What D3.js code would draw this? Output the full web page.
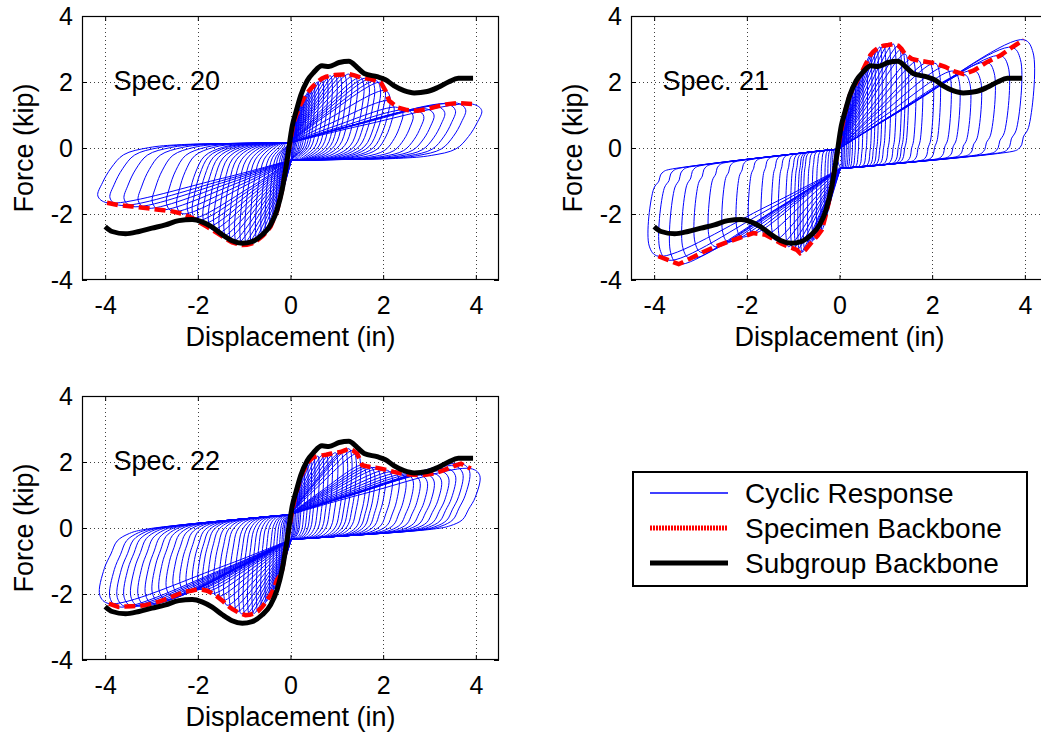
<!DOCTYPE html>
<html>
<head>
<meta charset="utf-8">
<script src="https://cdn.jsdelivr.net/npm/d3@7"></script>
<style>
  html, body { margin: 0; padding: 0; background: #fff; }
  svg { display: block; }
  text { font-family: "Liberation Sans", Arial, Helvetica, sans-serif; fill: #000; }
</style>
</head>
<body>
<svg id="chart" width="1041" height="735"></svg>
<script>
// ---- tick values -------------------------------------------------------
const xTicks = [-4, -2, 0, 2, 4];
const yTicks = [-4, -2, 0, 2, 4];

// ---- subgroup backbone (shared by all specimens), [disp in, force kip] --
const subgroupBackbone = [
  [-4.00, -2.38], [-3.85, -2.53], [-3.56, -2.60], [-3.27, -2.53], [-2.99, -2.43],
  [-2.70, -2.33], [-2.41, -2.20], [-2.12, -2.17], [-1.91, -2.24], [-1.69, -2.40],
  [-1.47, -2.63], [-1.26, -2.81], [-1.04, -2.89], [-0.83, -2.84], [-0.61, -2.63],
  [-0.43, -2.33], [-0.29, -1.87], [-0.18, -1.26], [-0.07, -0.34], [0.04, 0.68],
  [0.12, 1.10], [0.22, 1.59], [0.36, 2.04], [0.50, 2.29], [0.68, 2.49],
  [0.83, 2.47], [1.05, 2.59], [1.26, 2.63], [1.44, 2.44], [1.59, 2.26],
  [1.87, 2.16], [2.05, 2.07], [2.23, 1.89], [2.45, 1.74], [2.67, 1.67],
  [2.95, 1.71], [3.19, 1.84], [3.42, 2.01], [3.62, 2.11], [3.94, 2.11]
];

// ---- Spec. 20: cycle peaks [target disp, peak force] --------------------
const spec20Pos = [
  [0.04, 0.55], [0.07, 0.75], [0.10, 0.90], [0.13, 1.02], [0.17, 1.15], [0.22, 1.33],
  [0.27, 1.46], [0.32, 1.59], [0.38, 1.70], [0.44, 1.80], [0.50, 1.89], [0.58, 2.00],
  [0.68, 2.11], [0.77, 2.16], [0.86, 2.19], [0.96, 2.21], [1.05, 2.22], [1.15, 2.23],
  [1.26, 2.24], [1.38, 2.20], [1.51, 2.14], [1.62, 2.11], [1.73, 2.09], [1.85, 2.04],
  [1.95, 1.99], [2.05, 1.74], [2.13, 1.43], [2.31, 1.23], [2.52, 1.15], [2.74, 1.13],
  [2.95, 1.18], [3.17, 1.26], [3.39, 1.33], [3.60, 1.36], [3.93, 1.33]
];
const spec20Neg = [
  [-0.06, -0.25], [-0.10, -0.60], [-0.14, -0.95], [-0.18, -1.26], [-0.23, -1.55],
  [-0.29, -1.90], [-0.36, -2.15], [-0.43, -2.38], [-0.52, -2.55], [-0.61, -2.68],
  [-0.72, -2.80], [-0.83, -2.89], [-0.94, -2.93], [-1.04, -2.94], [-1.15, -2.90],
  [-1.26, -2.86], [-1.37, -2.77], [-1.47, -2.68], [-1.58, -2.58], [-1.69, -2.48],
  [-1.80, -2.39], [-1.91, -2.30], [-2.02, -2.20], [-2.12, -2.12], [-2.34, -1.99],
  [-2.55, -1.92], [-2.84, -1.87], [-3.13, -1.82], [-3.42, -1.77], [-3.71, -1.73],
  [-3.96, -1.66]
];
// pinched branches: [upper @0, upper slope, lower @0, lower slope]
const spec20Pinch = [0.15, 0.02, -0.36, 0.02];
// hysteresis shape: [reload bow, steep unload share, unload rounding]
const spec20Shape = [0.06, 0.35, 0.9];

// ---- Spec. 21 -----------------------------------------------------------
const spec21Pos = [
  [0.04, 0.55], [0.07, 0.75], [0.10, 0.95], [0.14, 1.20], [0.18, 1.40], [0.22, 1.59],
  [0.27, 1.75], [0.33, 1.89], [0.40, 2.10], [0.48, 2.29], [0.57, 2.55], [0.66, 2.80],
  [0.73, 2.92], [0.80, 3.00], [0.87, 3.06], [0.95, 3.10], [1.05, 3.12], [1.16, 3.15],
  [1.27, 3.10], [1.34, 3.00], [1.41, 2.85], [1.56, 2.70], [1.70, 2.65], [1.92, 2.60],
  [2.06, 2.57], [2.28, 2.46], [2.46, 2.33], [2.68, 2.24], [2.90, 2.35], [3.18, 2.60],
  [3.47, 2.80], [3.72, 3.05], [3.98, 3.28]
];
const spec21Neg = [
  [-0.06, -0.25], [-0.10, -0.60], [-0.14, -0.95], [-0.18, -1.26], [-0.24, -1.70],
  [-0.30, -2.05], [-0.38, -2.48], [-0.47, -2.65], [-0.56, -2.79], [-0.65, -2.94],
  [-0.74, -3.09], [-0.80, -3.15], [-0.85, -3.19], [-0.92, -3.09], [-1.00, -3.04],
  [-1.10, -2.99], [-1.25, -2.90], [-1.39, -2.79], [-1.60, -2.63], [-1.86, -2.58],
  [-2.11, -2.70], [-2.40, -2.84], [-2.68, -2.99], [-2.97, -3.17], [-3.22, -3.35],
  [-3.47, -3.52], [-3.69, -3.40], [-3.91, -3.28]
];
const spec21Pinch = [-0.03, 0.17, -0.62, 0.14];
const spec21Shape = [0.03, 0.8, 0.12];

// ---- Spec. 22 -----------------------------------------------------------
const spec22Pos = [
  [0.04, 0.55], [0.07, 0.75], [0.10, 0.95], [0.14, 1.15], [0.18, 1.35], [0.22, 1.55],
  [0.29, 1.75], [0.36, 1.95], [0.43, 2.07], [0.50, 2.15], [0.59, 2.18], [0.68, 2.20],
  [0.77, 2.22], [0.86, 2.25], [0.97, 2.28], [1.08, 2.30], [1.17, 2.35], [1.26, 2.40],
  [1.35, 2.35], [1.44, 2.25], [1.55, 1.90], [1.64, 1.87], [1.73, 1.85], [1.84, 1.83],
  [1.95, 1.80], [2.09, 1.75], [2.23, 1.70], [2.37, 1.66], [2.52, 1.63], [2.66, 1.61],
  [2.81, 1.60], [2.95, 1.62], [3.10, 1.65], [3.25, 1.72], [3.39, 1.80], [3.54, 1.88],
  [3.68, 1.95], [3.89, 1.80]
];
const spec22Neg = [
  [-0.06, -0.25], [-0.10, -0.60], [-0.14, -0.95], [-0.18, -1.26], [-0.23, -1.45],
  [-0.29, -1.57], [-0.36, -1.85], [-0.43, -2.03], [-0.52, -2.22], [-0.61, -2.39],
  [-0.70, -2.52], [-0.79, -2.59], [-0.88, -2.63], [-0.97, -2.64], [-1.06, -2.60],
  [-1.15, -2.54], [-1.26, -2.45], [-1.37, -2.34], [-1.47, -2.20], [-1.58, -2.08],
  [-1.69, -1.98], [-1.80, -1.90], [-1.90, -1.87], [-2.01, -1.86], [-2.14, -1.90],
  [-2.27, -1.93], [-2.41, -2.00], [-2.55, -2.08], [-2.70, -2.16], [-2.84, -2.23],
  [-2.98, -2.29], [-3.13, -2.34], [-3.28, -2.36], [-3.42, -2.37], [-3.56, -2.38],
  [-3.71, -2.39], [-3.92, -2.29]
];
const spec22Pinch = [0.40, 0.14, -0.34, 0.10];
const spec22Shape = [0.05, 0.5, 0.45];

const specimens = [
  { name: "Spec. 20", pos: spec20Pos, neg: spec20Neg, pinch: spec20Pinch, shape: spec20Shape, left: 82,  top: 16 },
  { name: "Spec. 21", pos: spec21Pos, neg: spec21Neg, pinch: spec21Pinch, shape: spec21Shape, left: 631, top: 16 },
  { name: "Spec. 22", pos: spec22Pos, neg: spec22Neg, pinch: spec22Pinch, shape: spec22Shape, left: 82,  top: 396 }
];

const legendItems = ["Cyclic Response", "Specimen Backbone", "Subgroup Backbone"];

// ---- layout -------------------------------------------------------------
const W = 417, H = 264;
const BLUE = "#0000ff", RED = "#ff0000";
const svg = d3.select("#chart");

// One half cycle: reload from the pinched branch at zero displacement
// straight towards the cycle peak, then an unload that runs slightly past
// the peak, drops and rounds onto the opposite pinched branch.
function halfCycle(d, F, p, shape, sign) {
  const up = x => p[0] + p[1] * x;
  const lo = x => p[2] + p[3] * x;
  const start = sign > 0 ? up : lo;
  const slip = sign > 0 ? lo : up;
  const [bow, f1, R0] = shape;
  const a = Math.abs(d);
  const pts = [];
  const y0 = start(0);
  pts.push([-sign * 0.02, y0]);
  pts.push([0.4 * d, y0 + (0.4 + bow) * (F - y0)]);
  pts.push([d, F]);
  const b = 0.05 * a;
  const R = R0 * Math.sqrt(a / 4);
  const steps = [
    [0.12, -b], [f1, -0.5 * b],
    [f1 + (1 - f1) * 0.4, 0.1 * R], [f1 + (1 - f1) * 0.75, 0.4 * R],
    [f1 + (1 - f1) * 0.93, 1.0 * R], [1.0, 1.8 * R]
  ];
  let last = -Infinity;
  steps.forEach(([fr, o]) => {
    const oo = Math.min(o, 0.75 * a);
    if (oo <= last + 0.005 && oo > 0) return;
    last = oo;
    const xi = d - sign * oo;
    pts.push([xi, F + fr * (slip(xi) - F)]);
  });
  const xe = sign * 0.03;
  pts.push([xe, slip(xe)]);
  return pts;
}

specimens.forEach(s => {
  const g = svg.append("g").attr("transform", `translate(${s.left},${s.top})`);
  const x = d3.scaleLinear().domain([-4.5, 4.5]).range([0, W]);
  const y = d3.scaleLinear().domain([-4, 4]).range([H, 0]);

  // dotted grid
  const grid = g.append("g").attr("stroke", "#000").attr("stroke-width", 1)
    .attr("stroke-dasharray", "1,3").attr("opacity", 0.75);
  grid.selectAll("line.v").data(xTicks).join("line")
    .attr("x1", d => Math.round(x(d)) + 0.5).attr("x2", d => Math.round(x(d)) + 0.5)
    .attr("y1", 0).attr("y2", H);
  grid.selectAll("line.h").data(yTicks.filter(v => Math.abs(v) < 4)).join("line")
    .attr("y1", d => Math.round(y(d)) + 0.5).attr("y2", d => Math.round(y(d)) + 0.5)
    .attr("x1", 0).attr("x2", W);

  const clipId = "clip" + s.name.replace(/\W/g, "");
  g.append("clipPath").attr("id", clipId).append("rect")
    .attr("x", 0).attr("y", 0).attr("width", W).attr("height", H);
  const plot = g.append("g").attr("clip-path", `url(#${clipId})`);

  const curve = d3.line().x(d => x(d[0])).y(d => y(d[1])).curve(d3.curveCatmullRom.alpha(0.5));

  // cyclic response
  const loops = [];
  s.pos.forEach(([d, F]) => loops.push(halfCycle(d, F, s.pinch, s.shape, 1)));
  s.neg.forEach(([d, F]) => loops.push(halfCycle(d, F, s.pinch, s.shape, -1)));
  plot.append("g").selectAll("path").data(loops).join("path")
    .attr("d", curve).attr("fill", "none").attr("stroke", BLUE).attr("stroke-width", 1);

  // specimen backbone through the cycle peaks
  const straight = d3.line().x(d => x(d[0])).y(d => y(d[1]));
  const backbone = s.neg.slice().reverse().concat(s.pos);
  plot.append("path").attr("d", straight(backbone)).attr("fill", "none")
    .attr("stroke", RED).attr("stroke-width", 4.5).attr("stroke-dasharray", "11,5");

  // subgroup backbone
  plot.append("path").attr("d", straight.curve(d3.curveMonotoneX)(subgroupBackbone))
    .attr("fill", "none").attr("stroke", "#000").attr("stroke-width", 5)
    .attr("stroke-linejoin", "round");

  // axes with inward ticks
  const xa = g.append("g").attr("transform", `translate(0,${H})`)
    .call(d3.axisBottom(x).tickValues(xTicks).tickSize(-5).tickPadding(16));
  g.append("g").call(d3.axisTop(x).tickValues(xTicks).tickSize(-5).tickFormat(""));
  const ya = g.append("g")
    .call(d3.axisLeft(y).tickValues(yTicks).tickSize(-5).tickPadding(9));
  g.append("g").attr("transform", `translate(${W},0)`)
    .call(d3.axisRight(y).tickValues(yTicks).tickSize(-5).tickFormat(""));
  g.selectAll(".domain").remove();
  g.selectAll(".tick line").attr("stroke", "#000");
  [xa, ya].forEach(a => a.selectAll("text").attr("font-size", 25)
    .style("font-family", '"Liberation Sans", Arial, sans-serif').text(d => d < 0 ? "-" + Math.abs(d) : d));

  // frame
  g.append("rect").attr("x", 0.5).attr("y", 0.5).attr("width", W - 1).attr("height", H - 1)
    .attr("fill", "none").attr("stroke", "#000").attr("stroke-width", 1.2);

  // labels
  g.append("text").attr("x", 31.5).attr("y", 74).attr("font-size", 27).text(s.name);
  g.append("text").attr("x", W / 2).attr("y", H + 66).attr("text-anchor", "middle")
    .attr("font-size", 27).text("Displacement (in)");
  g.append("text").attr("transform", `translate(-49,${H / 2}) rotate(-90)`)
    .attr("text-anchor", "middle").attr("font-size", 27).text("Force (kip)");
});

// ---- legend -------------------------------------------------------------
const lg = svg.append("g").attr("transform", "translate(633,472)");
lg.append("rect").attr("x", 0).attr("y", 0).attr("width", 394).attr("height", 114)
  .attr("fill", "#fff").attr("stroke", "#000").attr("stroke-width", 2);
const styles = [
  { stroke: BLUE, width: 1.5, dash: null },
  { stroke: RED, width: 5, dash: "2,1" },
  { stroke: "#000", width: 5, dash: null }
];
legendItems.forEach((t, i) => {
  const yy = 21 + i * 35;
  lg.append("line").attr("x1", 17).attr("x2", 95).attr("y1", yy).attr("y2", yy)
    .attr("stroke", styles[i].stroke).attr("stroke-width", styles[i].width)
    .attr("stroke-dasharray", styles[i].dash);
  lg.append("text").attr("x", 112).attr("y", yy + 10).attr("font-size", 28).text(t);
});
</script>
</body>
</html>
